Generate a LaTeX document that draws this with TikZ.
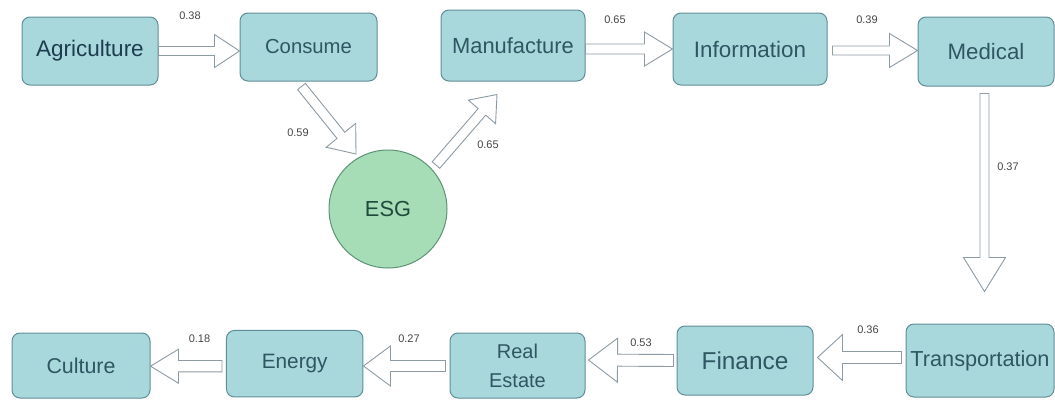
\documentclass[tikz,border=0pt]{standalone}
\usepackage{fontspec}
\setmainfont{Liberation Sans}
\usetikzlibrary{calc}

\definecolor{boxfill}{HTML}{A8D8DC}
\definecolor{boxline}{HTML}{5F8E96}
\definecolor{boxtext}{HTML}{2F5663}
\definecolor{agritext}{HTML}{1E3C50}
\definecolor{esgfill}{HTML}{A6DDB6}
\definecolor{esgline}{HTML}{5E9277}
\definecolor{esgtext}{HTML}{1F4A3C}
\definecolor{arrowline}{HTML}{8D9BA5}
\definecolor{labeltext}{HTML}{454545}

\newcommand\fs[1]{\fontsize{#1}{#1}\selectfont}

\tikzset{
  sector/.style={draw=boxline, fill=boxfill, line width=1pt, rounded corners=8pt,
                 text=boxtext, inner sep=0pt, align=center},
  hub/.style={circle, draw=esgline, fill=esgfill, line width=1pt,
              minimum size=118pt, text=esgtext, inner sep=0pt},
  blockarrow/.style={draw=arrowline, fill=white, line width=0.9pt, line join=miter},
  weight/.style={text=labeltext, font=\fs{11}, inner sep=0pt},
}

% hollow block arrow: #1 tail, #2 tip, #3 shaft half-width, #4 head half-width, #5 head length
\newcommand\flowarrow[5]{%
  \path (#1) coordinate (fa-t) (#2) coordinate (fa-p);
  \path ($(fa-p)!#5!(fa-t)$) coordinate (fa-h);
  \draw[blockarrow] ($(fa-t)!#3!90:(fa-p)$) -- ($(fa-h)!#3!90:(fa-p)$)
    -- ($(fa-h)!#4!90:(fa-p)$) -- (fa-p) -- ($(fa-h)!#4!-90:(fa-p)$)
    -- ($(fa-h)!#3!-90:(fa-p)$) -- ($(fa-t)!#3!-90:(fa-p)$) -- cycle;
}

\begin{document}
\begin{tikzpicture}[x=1pt, y=-1pt]
\useasboundingbox (0,0) rectangle (1055,399);

% top row
\node[sector, minimum width=136pt, minimum height=68pt, font=\fs{22.5}, text=agritext] (agri) at (90,51) {Agriculture};
\node[sector, minimum width=137pt, minimum height=68pt, font=\fs{20.3}] (cons) at (308.5,47) {Consume};
\node[sector, minimum width=144pt, minimum height=71pt, font=\fs{21.9}] (manu) at (513,45.5) {Manufacture};
\node[sector, minimum width=154pt, minimum height=72pt, font=\fs{22.4}] (info) at (750,49) {Information};
\node[sector, minimum width=136pt, minimum height=69pt, font=\fs{22.3}] (med) at (986,51.5) {Medical};

% hub
\node[hub, font=\fs{21.8}] (esg) at (388,209) {ESG};

% bottom row
\node[sector, minimum width=148pt, minimum height=73pt, font=\fs{21.7}] (trans) at (980,360.5) {Transportation};
\node[sector, minimum width=136pt, minimum height=69pt, font=\fs{24.4}] (fin) at (745,360.5) {Finance};
\node[sector, minimum width=135pt, minimum height=65pt, font=\fontsize{20}{29}\selectfont] (re) at (517.5,365.5) {Real\\Estate};
\node[sector, minimum width=136.5pt, minimum height=66.5pt, font=\fs{20.8}] (energy) at (294.7,363.7) {Energy};
\node[sector, minimum width=138pt, minimum height=65pt, font=\fs{21.4}] (cult) at (81,365.5) {Culture};

% arrow end points off the node borders
\coordinate (im-t) at ($(info.east)+(5,1.5)$);
\coordinate (cs-out) at ($(cons.south)+(-7,5)$);
\coordinate (esg-in) at ($(esg.center)+(-32,-55)$);
\coordinate (esg-out) at ($(esg.center)+(48,-44)$);
\coordinate (mf-in) at ($(manu.south)+(-16,13)$);
\coordinate (md-out) at ($(med.south)+(-1.5,7)$);
\coordinate (tr-in) at ($(trans.north)+(4.5,-32)$);
\coordinate (tr-out) at ($(trans.west)+(-4,-3)$);
\coordinate (fn-in) at ($(fin.east)+(4,-3)$);
\coordinate (fn-out) at ($(fin.west)+(-3,0)$);
\coordinate (re-in) at ($(re.east)+(3,-5.5)$);
\coordinate (re-out) at ($(re.west)+(-4,0.5)$);
\coordinate (en-out) at ($(energy.west)+(-4,2.5)$);

% connectors
\flowarrow{agri.east}{agri.east -| cons.west}{4.5pt}{16.5pt}{25pt}
\flowarrow{manu.east |- info.west}{info.west}{5pt}{17pt}{28pt}
\flowarrow{im-t}{im-t -| med.west}{4.5pt}{17pt}{28pt}
\flowarrow{cs-out}{esg-in}{5pt}{19pt}{24pt}
\flowarrow{esg-out}{mf-in}{5pt}{18pt}{23pt}
\flowarrow{md-out}{tr-in}{4.5pt}{21pt}{34pt}
\flowarrow{tr-out}{fn-in}{6pt}{23pt}{25pt}
\flowarrow{fn-out}{re-in}{6pt}{22pt}{29pt}
\flowarrow{re-out}{re-out -| energy.east}{5.5pt}{20pt}{27pt}
\flowarrow{en-out}{en-out -| cult.east}{5.7pt}{17pt}{28pt}

% weights
\node[weight] (w1) at (190,16) {0.38};
\node[weight] (w2) at (615,20) {0.65};
\node[weight] (w3) at (867,20) {0.39};
\node[weight] (w4) at (298,133) {0.59};
\node[weight] (w5) at (488,145) {0.65};
\node[weight] (w6) at (1008,167) {0.37};
\node[weight] (w7) at (868,330) {0.36};
\node[weight] (w8) at (641,343) {0.53};
\node[weight] (w9) at (409,339) {0.27};
\node[weight] (w10) at (199.5,339) {0.18};
\end{tikzpicture}
\end{document}
